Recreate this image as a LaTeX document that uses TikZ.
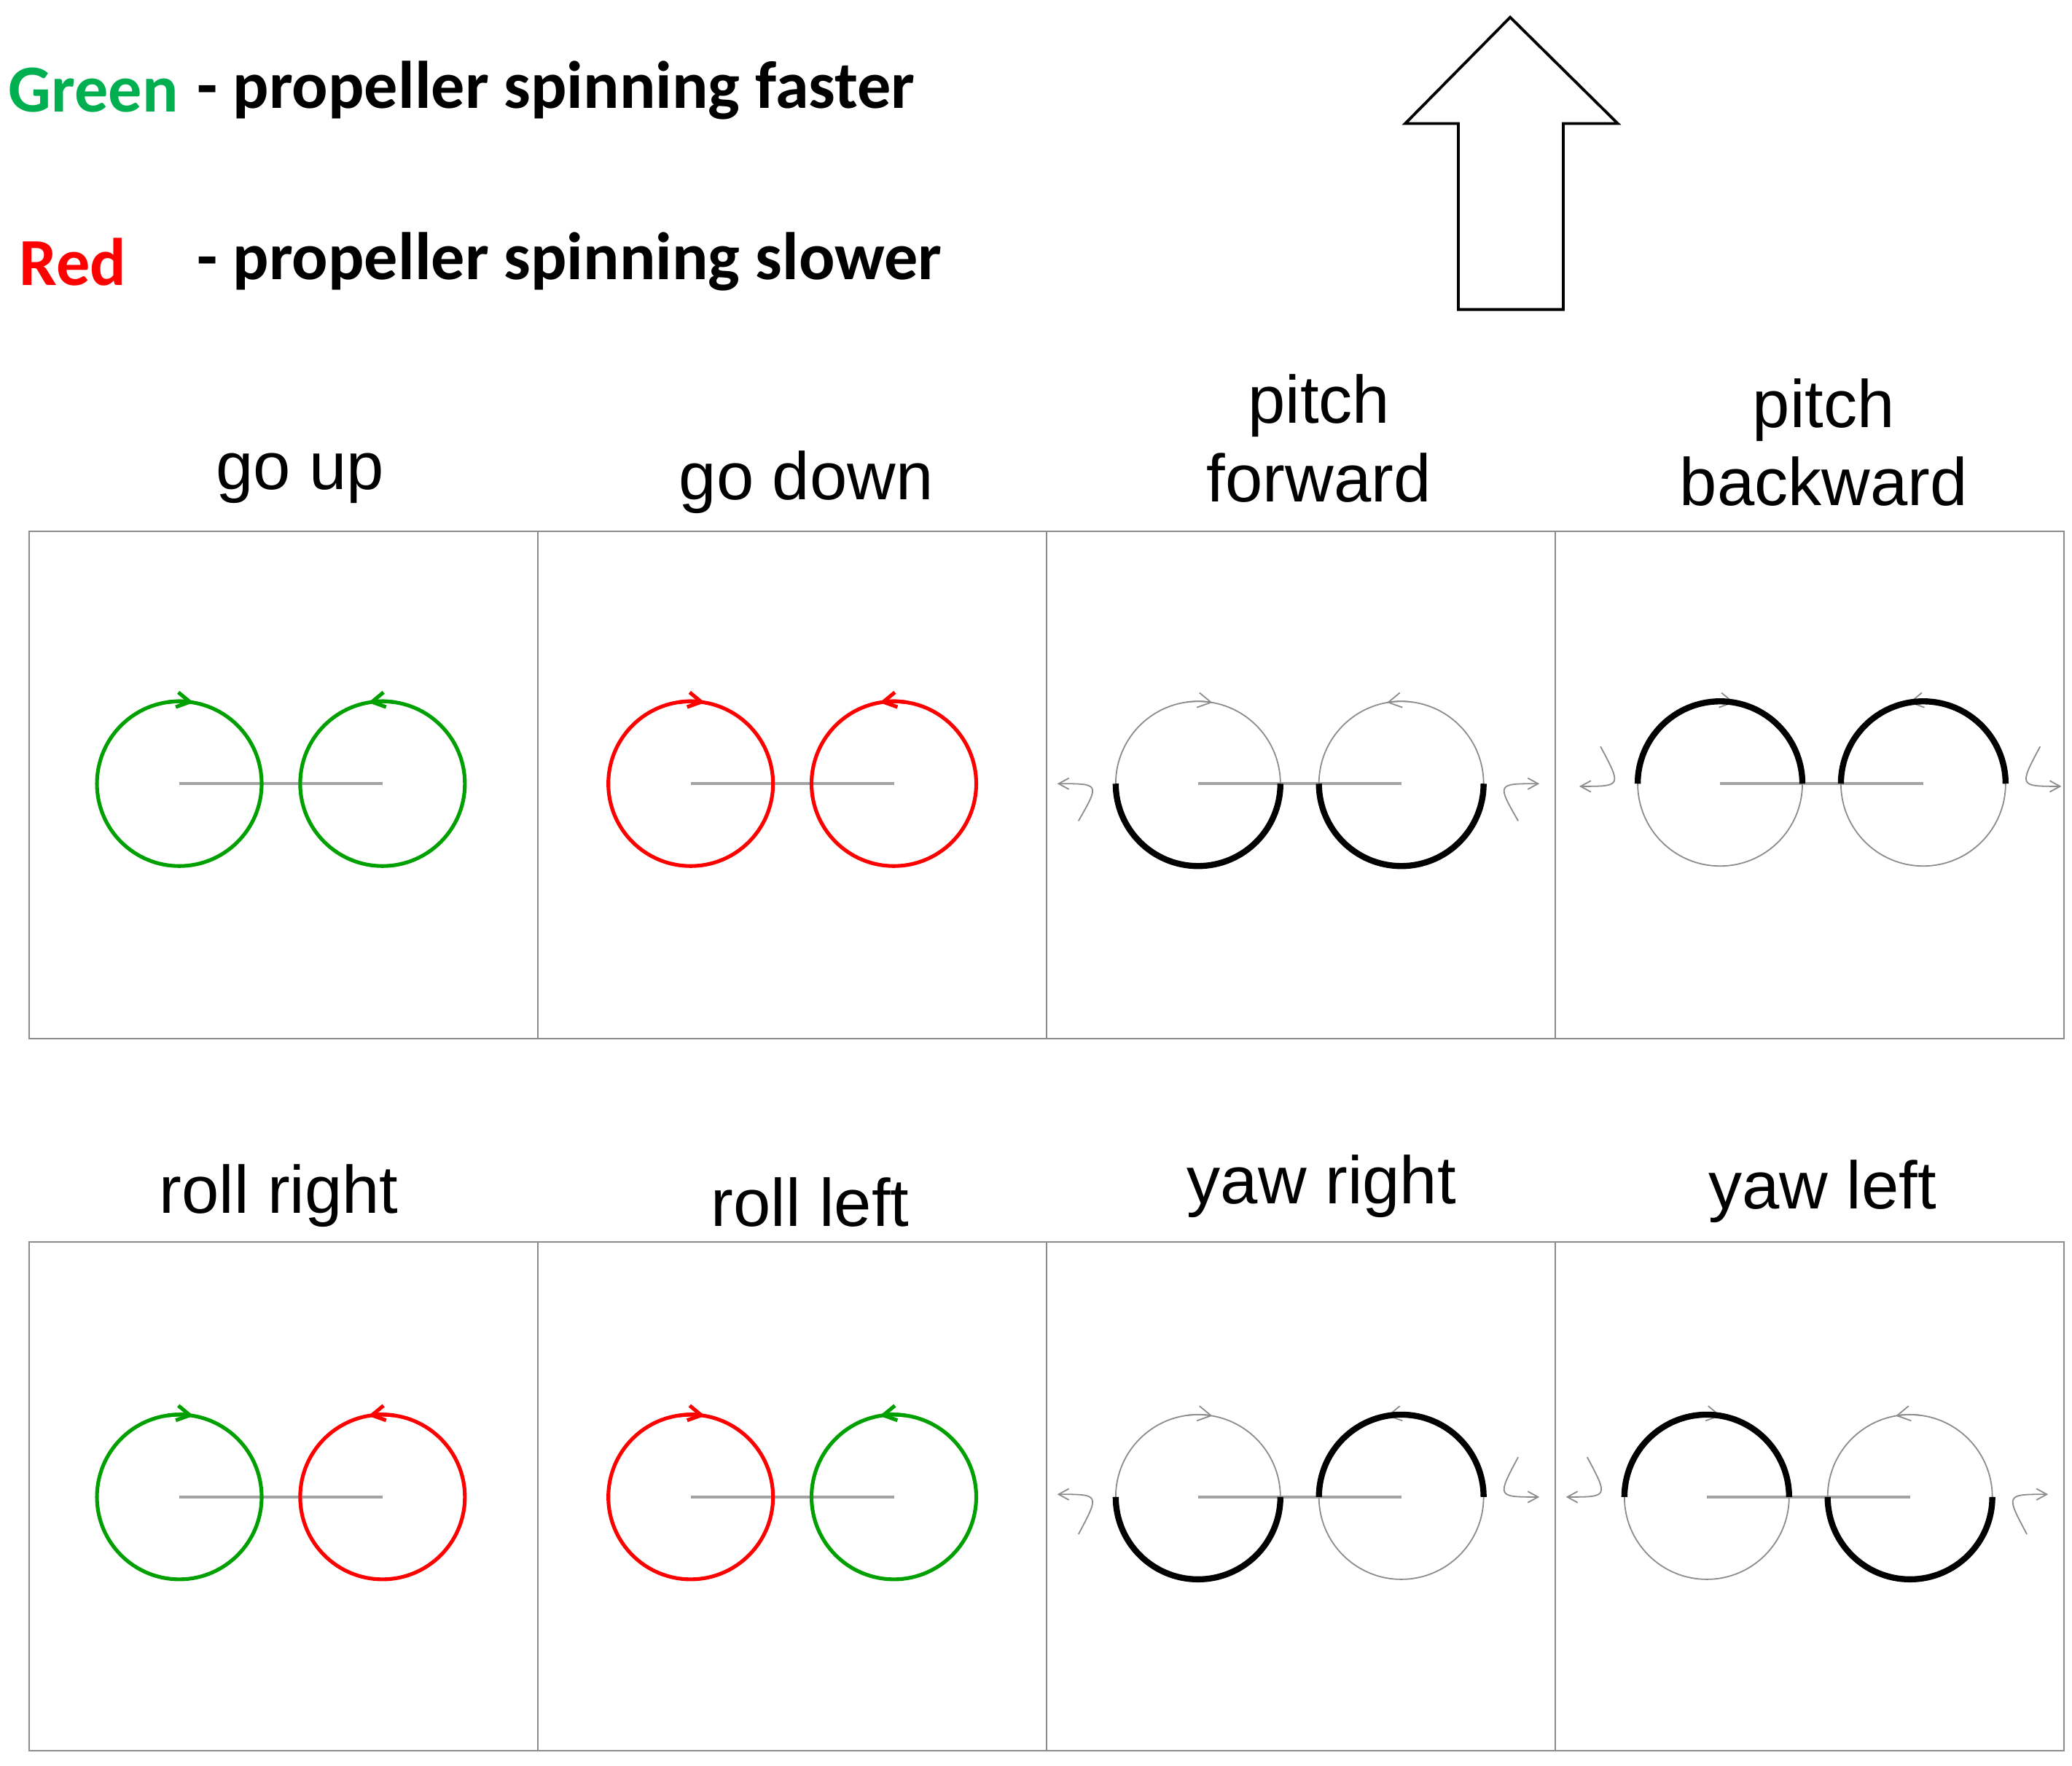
\documentclass[tikz,border=0pt]{standalone}
\usepackage{fontspec}
\setmainfont{Liberation Sans}
\newfontfamily\legfont{Carlito}
\usetikzlibrary{arrows.meta}
\definecolor{pgreen}{RGB}{0,160,0}
\definecolor{lgreen}{RGB}{0,176,80}
\definecolor{pred}{RGB}{255,0,0}
\definecolor{lgray}{RGB}{140,140,140}
\tikzset{
  cell/.style={draw=lgray,line width=2pt},
  bar/.style={draw=lgray!80,line width=3.5pt},
  rot/.style={line width=4pt},
  thin/.style={draw=lgray,line width=1.4pt},
  thick/.style={draw=black,line width=6.5pt},
  tip/.style={-{Straight Barb[length=14pt,width=16pt]}},
  lab/.style={font=\fontsize{72}{84}\selectfont,align=center},
  leg/.style={font=\legfont\bfseries\fontsize{72}{84}\selectfont,anchor=west}
}
\newcommand\ColPair[4]{%
  \draw[bar] (#1) -- (#2);
  \draw[rot,draw=#3] (#1) circle[radius=62];
  \draw[rot,draw=#3,tip] (#1) ++(262:62) arc (262:280:62);
  \draw[rot,draw=#4] (#2) circle[radius=62];
  \draw[rot,draw=#4,tip] (#2) ++(278:62) arc (278:260:62);
}
\newcommand\GrayPair[4]{%
  \draw[bar] (#1) -- (#2);
  \draw[thin] (#1) circle[radius=62];
  \draw[thin,tip] (#1) ++(262:62) arc (262:280:62);
  \draw[thin] (#2) circle[radius=62];
  \draw[thin,tip] (#2) ++(278:62) arc (278:260:62);
  \draw[thick] (#1) ++(#3:62) arc (#3:#3+180:62);
  \draw[thick] (#2) ++(#4:62) arc (#4:#4+180:62);
}
\begin{document}
\begin{tikzpicture}[x=0.05cm,y=-0.05cm]
\useasboundingbox (0,0) rectangle (1560,1329);
% legend
\node[leg,text=lgreen] (g) at (4,68) {Green};
\node[leg] (gt) at (146,68) {- propeller spinning faster};
\node[leg,text=pred] (r) at (12,197) {Red};
\node[leg] (rt) at (146,197) {- propeller spinning slower};
% big arrow
\draw[line width=3pt,line join=miter] (1137,13) -- (1218,93) -- (1177,93) -- (1177,233) -- (1098,233) -- (1098,93) -- (1058,93) -- cycle;
% grid
\draw[cell] (22,400) rectangle (1554,782);
\draw[cell] (22,935) rectangle (1554,1318);
\foreach \x in {405,788,1171}{\draw[cell] (\x,400) -- (\x,782); \draw[cell] (\x,935) -- (\x,1318);}
% labels
\node[lab] (l1) at (226,360) {go up};
\node[lab] (l2) at (607,363) {go down};
\node[lab] (l3) at (993,330) {pitch\\forward};
\node[lab] (l4) at (1373,333) {pitch\\backward};
\node[lab] (l5) at (210,900) {roll right};
\node[lab] (l6) at (610,905) {roll left};
\node[lab] (l7) at (995,893) {yaw right};
\node[lab] (l8) at (1372,897) {yaw left};
% centers
\coordinate (a1) at (135,590); \coordinate (b1) at (288,590);
\coordinate (a2) at (520,590); \coordinate (b2) at (673,590);
\coordinate (a3) at (902,590); \coordinate (b3) at (1055,590);
\coordinate (a4) at (1295,590); \coordinate (b4) at (1448,590);
\coordinate (a5) at (135,1127); \coordinate (b5) at (288,1127);
\coordinate (a6) at (520,1127); \coordinate (b6) at (673,1127);
\coordinate (a7) at (902,1127); \coordinate (b7) at (1055,1127);
\coordinate (a8) at (1285,1127); \coordinate (b8) at (1438,1127);
\ColPair{a1}{b1}{pgreen}{pgreen}
\ColPair{a2}{b2}{pred}{pred}
\ColPair{a5}{b5}{pgreen}{pred}
\ColPair{a6}{b6}{pred}{pgreen}
\GrayPair{a3}{b3}{0}{0}
\GrayPair{a4}{b4}{180}{180}
\GrayPair{a7}{b7}{0}{180}
\GrayPair{a8}{b8}{180}{0}
% side torque arcs
\tikzset{side/.style={thin,-{Straight Barb[length=11pt,width=12pt]}}}
\newcommand\SideL[3]{\draw[side] (#1) ++(-90,#2) .. controls ++(16,#3) .. ++(-16,#3);}
\newcommand\SideR[3]{\draw[side] (#1) ++(88,#2) .. controls ++(-16,#3) .. ++(16,#3);}
\SideL{a3}{28}{-28} \SideR{b3}{28}{-28}
\SideL{a4}{-28}{30} \SideR{b4}{-28}{30}
\SideL{a7}{28}{-30} \SideR{b7}{-30}{30}
\SideL{a8}{-30}{30} \SideR{b8}{28}{-30}
\end{tikzpicture}
\end{document}
